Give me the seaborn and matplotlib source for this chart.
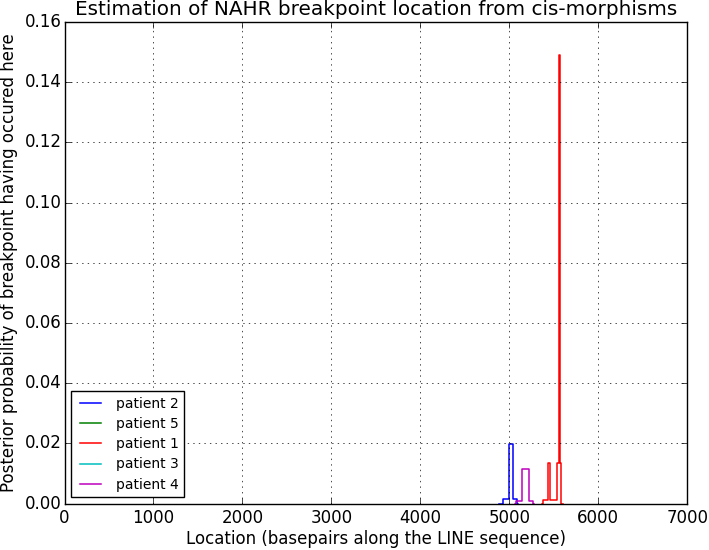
import numpy as np
import pandas as pd
import matplotlib
matplotlib.use("Agg")
import matplotlib.pyplot as plt
from matplotlib.lines import Line2D
import seaborn as sns

# bin edges (bp along the LINE) and posterior probability per bin
patients = ["patient 2", "patient 5", "patient 1", "patient 3", "patient 4"]
colors = ["b", "g", "r", "c", "m"]

p2_edges = [4884, 4932, 4999, 5044, 5082, 5095]
p2_prob = [0.0, 0.0015, 0.0197, 0.0015, 0.0]

p1_edges = [5365, 5382, 5435, 5452, 5540, 5557, 5571, 5585, 5600]
p1_prob = [0.0, 0.0012, 0.0133, 0.0012, 0.0133, 0.149, 0.0133, 0.0]

p4_edges = [5060, 5071, 5139, 5224, 5269, 5280]
p4_prob = [0.0, 0.0009, 0.0115, 0.0009, 0.0]

# patients 5 and 3 show nothing visible on the chart
p5_edges, p5_prob = [], []
p3_edges, p3_prob = [], []

edges = [p2_edges, p5_edges, p1_edges, p3_edges, p4_edges]
probs = [p2_prob, p5_prob, p1_prob, p3_prob, p4_prob]

plt.style.use("classic")
plt.rcParams.update({
    "font.family": "DejaVu Sans",
    "font.size": 12,
    "figure.facecolor": "white",
    "savefig.facecolor": "white",
    "legend.fontsize": 10,
    "axes.labelsize": 12,
    "axes.titlesize": 14.4,
    "xtick.labelsize": 12,
    "ytick.labelsize": 12,
    "ytick.major.pad": 2,
})

fig = plt.figure(figsize=(7.09, 5.5), dpi=100)
ax = fig.add_axes([0.091, 0.0845, 0.8784, 0.8755])

for name, col, e, p in zip(patients, colors, edges, probs):
    if len(p) == 0:
        continue
    df = pd.DataFrame({"loc": e[:-1], "prob": p})
    sns.histplot(data=df, x="loc", weights="prob", bins=list(e), element="step",
                 fill=False, color=col, linewidth=1.1, ax=ax)

ax.set_xlim(0, 7000)
ax.set_ylim(0, 0.16)
ax.set_yticks(np.arange(0, 0.161, 0.02))
ax.yaxis.set_major_formatter(matplotlib.ticker.FormatStrFormatter("%.2f"))
ax.grid(True, linestyle=":", color="k", linewidth=0.5)
ax.set_title("Estimation of NAHR breakpoint location from cis-morphisms", pad=5)
ax.set_xlabel("Location (basepairs along the LINE sequence)", labelpad=2)
ax.set_ylabel("Posterior probability of breakpoint having occured here")

handles = [Line2D([0, 1], [0, 0], color=c, linewidth=1.1) for c in colors]
ax.legend(handles, patients, loc="lower left", borderaxespad=0.45,
          handlelength=2.06, handletextpad=0.78, labelspacing=0.45, numpoints=2)

fig.savefig("out.png", dpi=100)
